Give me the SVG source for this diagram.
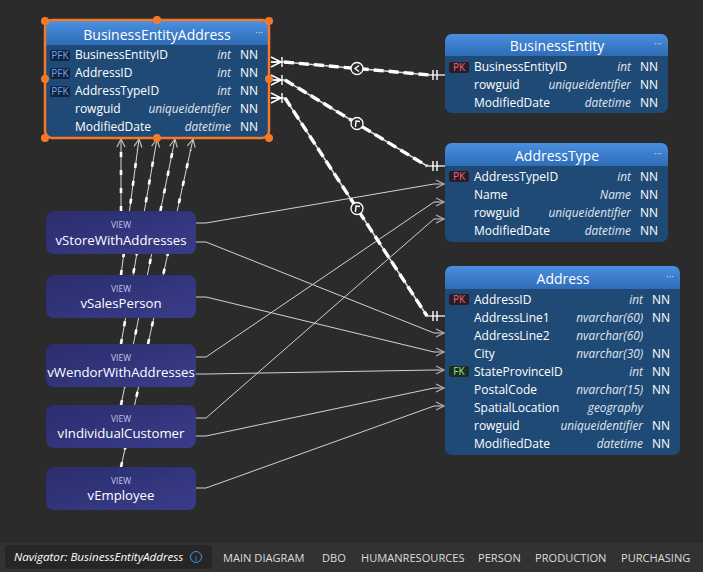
<svg xmlns="http://www.w3.org/2000/svg" width="703" height="572" viewBox="0 0 703 572">
<defs>
<linearGradient id="hdr" x1="0" y1="0" x2="0" y2="1"><stop offset="0" stop-color="#4a8fe0"/><stop offset="1" stop-color="#2e6cb6"/></linearGradient>
<linearGradient id="vw" x1="0" y1="0" x2="1" y2="1"><stop offset="0" stop-color="#2b2d6e"/><stop offset="1" stop-color="#3a3c8a"/></linearGradient>
<marker id="arr" markerWidth="10" markerHeight="10" refX="9" refY="5" orient="auto" markerUnits="userSpaceOnUse"><path d="M1,1 L9,5 L1,9" fill="none" stroke="#b0b0b0" stroke-width="1.2"/></marker>
<marker id="arrw" markerWidth="10" markerHeight="10" refX="9" refY="5" orient="auto" markerUnits="userSpaceOnUse"><path d="M1,1 L9,5 L1,9" fill="none" stroke="#bdbdbd" stroke-width="1.2"/></marker>
</defs>
<style>
text{font-family:"Open Sans","Noto Sans","DejaVu Sans",sans-serif}
.body{fill:#1f4a76}
.hdr{fill:url(#hdr)}
.title{font-size:14px;fill:#fff;text-anchor:middle}
.dots{font-size:10px;fill:#c8d8ee;text-anchor:middle}
.nm{font-size:12px;fill:#fff}
.ty{font-size:11.8px;fill:#e0e6ee;font-style:italic;text-anchor:end}
.nn{font-size:12px;fill:#fff}
.bdg{fill:#13233d}
.pfk{font-size:10px;fill:#6aa8f0;text-anchor:middle}
.pkb{fill:#2a1c26}
.pk{font-size:10px;fill:#f06a70;text-anchor:middle}
.fkb{fill:#1b2e24}
.fk{font-size:10px;fill:#9be67e;text-anchor:middle}
.view{fill:url(#vw)}
.vl{font-size:8.5px;fill:#c4c6e4;text-anchor:middle}
.vn{font-size:13.2px;fill:#fff;text-anchor:middle}
.thin{fill:none;stroke:#d2d2d2;stroke-width:1}
.vbase{fill:none;stroke:#d8d8d8;stroke-width:1}
.vdash{fill:none;stroke:#fff;stroke-width:2.6;stroke-dasharray:5 13}
.rbase{fill:none;stroke:#dcdcdc;stroke-width:1.6}
.rdash{fill:none;stroke:#fff;stroke-width:3.4;stroke-dasharray:10 5}
.sym{fill:none;stroke:#fff;stroke-width:1.4}
.circ{fill:#2b2b2b;stroke:#fff;stroke-width:1.3}
.menu{font-size:11.1px;fill:#dcdcdc}
.nav{font-size:11.6px;fill:#fff;font-style:italic}
</style>
<rect x="0" y="0" width="703" height="572" fill="#2b2b2b"/>
<rect x="0" y="543" width="703" height="29" fill="#323232"/>

<g id="connectors">
  <path class="vbase" d="M121,211 V139" marker-end="url(#arrw)"/>
  <path class="vbase" d="M121,275 L139,139" marker-end="url(#arrw)"/>
  <path class="vbase" d="M121,344 L157,139" marker-end="url(#arrw)"/>
  <path class="vbase" d="M121,405 L175,139" marker-end="url(#arrw)"/>
  <path class="vbase" d="M121,467 L193,139" marker-end="url(#arrw)"/>
  <path class="vdash" d="M121,211 V150"/>
  <path class="vdash" d="M121,275 L137.5,150"/>
  <path class="vdash" d="M121,344 L155,150"/>
  <path class="vdash" d="M121,405 L172.8,150"/>
  <path class="vdash" d="M121,467 L190.6,150"/>
  <path class="thin" d="M196,223 H206 L434,184 H444" marker-end="url(#arr)"/>
  <path class="thin" d="M196,242 H206 L434,333 H444" marker-end="url(#arr)"/>
  <path class="thin" d="M196,297 H206 L434,352 H444" marker-end="url(#arr)"/>
  <path class="thin" d="M196,357 H206 L434,202 H444" marker-end="url(#arr)"/>
  <path class="thin" d="M196,374 H206 L434,370 H444" marker-end="url(#arr)"/>
  <path class="thin" d="M196,418 H206 L434,219 H444" marker-end="url(#arr)"/>
  <path class="thin" d="M196,436 H206 L434,388 H444" marker-end="url(#arr)"/>
  <path class="thin" d="M196,488 H206 L434,406 H444" marker-end="url(#arr)"/>
  <path class="rbase" d="M271,62 H284 L430,75 H445"/>
  <path class="rdash" d="M284,62 L430,75"/>
  <path class="rbase" d="M271,80 H285 L427,166 H445"/>
  <path class="rdash" d="M285,80 L427,166"/>
  <path class="rbase" d="M271,98 H285 L427,316 H445"/>
  <path class="rdash" d="M285,98 L427,316"/>
  <path class="sym" d="M271,57 L281,62 M271,62 H281 M271,67 L281,62 M282,57 V67"/>
  <path class="sym" d="M271,75 L281,80 M271,80 H281 M271,85 L281,80 M282,75 V85"/>
  <path class="sym" d="M271,93 L281,98 M271,98 H281 M271,103 L281,98 M282,93 V103"/>
  <path class="sym" d="M433,70 V80 M437,70 V80"/>
  <path class="sym" d="M433,161 V171 M437,161 V171"/>
  <path class="sym" d="M433,311 V321 M437,311 V321"/>
  <circle class="circ" cx="357" cy="68.5" r="6"/>
  <path class="sym" stroke-width="1.2" d="M359,65.5 L355,68.5 L359,71.5"/>
  <circle class="circ" cx="357" cy="123.5" r="6"/>
  <path class="sym" stroke-width="1.2" d="M355.5,127 L356,121 L360,121.5"/>
  <circle class="circ" cx="357" cy="208.5" r="6"/>
  <path class="sym" stroke-width="1.2" d="M355.5,212 L356,206 L360,206.5"/>
</g>

<g id="BusinessEntityAddress">
  <rect class="body" x="46" y="21" width="222" height="116" rx="6"/>
  <path class="hdr" d="M46,45 V27 a6,6 0 0 1 6,-6 H262 a6,6 0 0 1 6,6 V45 Z"/>
  <text class="title" x="157" y="40">BusinessEntityAddress</text>
  <text class="dots" x="259" y="36">···</text>
  <rect class="bdg" x="50" y="50" width="20" height="11" rx="2"/><text class="pfk" x="60" y="59">PFK</text>
  <text class="nm" x="75" y="59">BusinessEntityID</text><text class="ty" x="231" y="59">int</text><text class="nn" x="240" y="59">NN</text>
  <rect class="bdg" x="50" y="68" width="20" height="11" rx="2"/><text class="pfk" x="60" y="77">PFK</text>
  <text class="nm" x="75" y="77">AddressID</text><text class="ty" x="231" y="77">int</text><text class="nn" x="240" y="77">NN</text>
  <rect class="bdg" x="50" y="86" width="20" height="11" rx="2"/><text class="pfk" x="60" y="95">PFK</text>
  <text class="nm" x="75" y="95">AddressTypeID</text><text class="ty" x="231" y="95">int</text><text class="nn" x="240" y="95">NN</text>
  <text class="nm" x="75" y="113">rowguid</text><text class="ty" x="231" y="113">uniqueidentifier</text><text class="nn" x="240" y="113">NN</text>
  <text class="nm" x="75" y="131">ModifiedDate</text><text class="ty" x="231" y="131">datetime</text><text class="nn" x="240" y="131">NN</text>
  <rect x="45" y="20" width="224" height="118" rx="7" fill="none" stroke="#f47a2a" stroke-width="2.5"/>
  <g fill="#f47a2a">
    <circle cx="45" cy="21" r="4"/><circle cx="157" cy="20" r="4"/><circle cx="269" cy="21" r="4"/>
    <circle cx="45" cy="79" r="4"/><circle cx="269" cy="79" r="4"/>
    <circle cx="45" cy="138" r="4"/><circle cx="157" cy="138" r="4"/><circle cx="269" cy="138" r="4"/>
  </g>
</g>

<g id="BusinessEntity">
  <rect class="body" x="445" y="34" width="223" height="79" rx="7"/>
  <path class="hdr" d="M445,56 V41 a7,7 0 0 1 7,-7 H661 a7,7 0 0 1 7,7 V56 Z"/>
  <text class="title" x="557" y="51">BusinessEntity</text>
  <text class="dots" x="658" y="47">···</text>
  <rect class="pkb" x="449" y="62" width="20" height="11" rx="2"/><text class="pk" x="459" y="71">PK</text>
  <text class="nm" x="474" y="71">BusinessEntityID</text><text class="ty" x="631" y="71">int</text><text class="nn" x="640" y="71">NN</text>
  <text class="nm" x="474" y="89">rowguid</text><text class="ty" x="631" y="89">uniqueidentifier</text><text class="nn" x="640" y="89">NN</text>
  <text class="nm" x="474" y="107">ModifiedDate</text><text class="ty" x="631" y="107">datetime</text><text class="nn" x="640" y="107">NN</text>
</g>

<g id="AddressType">
  <rect class="body" x="445" y="143" width="223" height="99" rx="7"/>
  <path class="hdr" d="M445,166 V150 a7,7 0 0 1 7,-7 H661 a7,7 0 0 1 7,7 V166 Z"/>
  <text class="title" x="557" y="161">AddressType</text>
  <text class="dots" x="658" y="157">···</text>
  <rect class="pkb" x="449" y="171" width="20" height="11" rx="2"/><text class="pk" x="459" y="180">PK</text>
  <text class="nm" x="474" y="180.5">AddressTypeID</text><text class="ty" x="631" y="180.5">int</text><text class="nn" x="640" y="180.5">NN</text>
  <text class="nm" x="474" y="198.5">Name</text><text class="ty" x="631" y="198.5">Name</text><text class="nn" x="640" y="198.5">NN</text>
  <text class="nm" x="474" y="216.5">rowguid</text><text class="ty" x="631" y="216.5">uniqueidentifier</text><text class="nn" x="640" y="216.5">NN</text>
  <text class="nm" x="474" y="234.5">ModifiedDate</text><text class="ty" x="631" y="234.5">datetime</text><text class="nn" x="640" y="234.5">NN</text>
</g>

<g id="Address">
  <rect class="body" x="445" y="266" width="235" height="189" rx="7"/>
  <path class="hdr" d="M445,289 V273 a7,7 0 0 1 7,-7 H673 a7,7 0 0 1 7,7 V289 Z"/>
  <text class="title" x="563" y="284">Address</text>
  <text class="dots" x="670" y="280">···</text>
  <rect class="pkb" x="449" y="294" width="20" height="11" rx="2"/><text class="pk" x="459" y="303">PK</text>
  <text class="nm" x="474" y="303.5">AddressID</text><text class="ty" x="643" y="303.5">int</text><text class="nn" x="652" y="303.5">NN</text>
  <text class="nm" x="474" y="321.5">AddressLine1</text><text class="ty" x="643" y="321.5">nvarchar(60)</text><text class="nn" x="652" y="321.5">NN</text>
  <text class="nm" x="474" y="339.5">AddressLine2</text><text class="ty" x="643" y="339.5">nvarchar(60)</text>
  <text class="nm" x="474" y="357.5">City</text><text class="ty" x="643" y="357.5">nvarchar(30)</text><text class="nn" x="652" y="357.5">NN</text>
  <rect class="fkb" x="449" y="366" width="20" height="11" rx="2"/><text class="fk" x="459" y="375">FK</text>
  <text class="nm" x="474" y="375.5">StateProvinceID</text><text class="ty" x="643" y="375.5">int</text><text class="nn" x="652" y="375.5">NN</text>
  <text class="nm" x="474" y="393.5">PostalCode</text><text class="ty" x="643" y="393.5">nvarchar(15)</text><text class="nn" x="652" y="393.5">NN</text>
  <text class="nm" x="474" y="411.5">SpatialLocation</text><text class="ty" x="643" y="411.5">geography</text>
  <text class="nm" x="474" y="429.5">rowguid</text><text class="ty" x="643" y="429.5">uniqueidentifier</text><text class="nn" x="652" y="429.5">NN</text>
  <text class="nm" x="474" y="447.5">ModifiedDate</text><text class="ty" x="643" y="447.5">datetime</text><text class="nn" x="652" y="447.5">NN</text>
</g>

<g id="vStoreWithAddresses">
  <rect class="view" x="46" y="211" width="150" height="43" rx="8"/>
  <text class="vl" x="121" y="228">VIEW</text><text class="vn" x="121" y="244.5">vStoreWithAddresses</text>
</g>
<g id="vSalesPerson">
  <rect class="view" x="46" y="275" width="150" height="43" rx="8"/>
  <text class="vl" x="121" y="292">VIEW</text><text class="vn" x="121" y="308">vSalesPerson</text>
</g>
<g id="vWendorWithAddresses">
  <rect class="view" x="46" y="344" width="150" height="43" rx="8"/>
  <text class="vl" x="121" y="361">VIEW</text><text class="vn" x="121" y="377">vWendorWithAddresses</text>
</g>
<g id="vIndividualCustomer">
  <rect class="view" x="46" y="405" width="150" height="43" rx="8"/>
  <text class="vl" x="121" y="422">VIEW</text><text class="vn" x="121" y="438">vIndividualCustomer</text>
</g>
<g id="vEmployee">
  <rect class="view" x="46" y="467" width="150" height="43" rx="8"/>
  <text class="vl" x="121" y="484">VIEW</text><text class="vn" x="121" y="500">vEmployee</text>
</g>

<g id="navigator">
  <rect x="5" y="545" width="207" height="24" rx="3" fill="#262626"/>
  <text class="nav" x="14" y="561">Navigator: BusinessEntityAddress</text>
  <circle cx="196" cy="557" r="5.5" fill="none" stroke="#4a8fe0" stroke-width="1"/>
  <text x="196" y="560.5" font-size="8" fill="#4a8fe0" text-anchor="middle">i</text>
  <text class="menu" x="223" y="562">MAIN DIAGRAM</text>
  <text class="menu" x="322" y="562">DBO</text>
  <text class="menu" x="361" y="562">HUMANRESOURCES</text>
  <text class="menu" x="478" y="562">PERSON</text>
  <text class="menu" x="535" y="562">PRODUCTION</text>
  <text class="menu" x="621" y="562">PURCHASING</text>
</g>
</svg>
